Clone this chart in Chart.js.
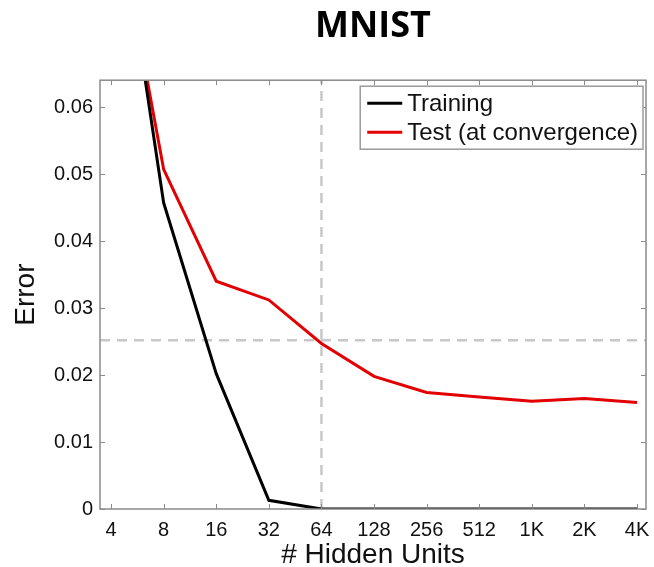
<!DOCTYPE html>
<html><head><meta charset="utf-8">
<script src="https://cdn.jsdelivr.net/npm/chart.js@4/dist/chart.umd.min.js"></script>
<style>html,body{margin:0;padding:0;background:#fff;} #wrap{width:654px;height:567px;}</style>
</head><body><div id="wrap"><canvas id="c" width="654" height="567"></canvas></div>
<script>
const unitLabels = ['4','8','16','32','64','128','256','512','1K','2K','4K'];
const log2Units = [2,3,4,5,6,7,8,9,10,11,12];
const trainingError = [0.098,0.0457,0.0202,0.0013,0,0,0,0,0,0,0];
const testError = [0.0933,0.0507,0.034,0.0312,0.0247,0.0198,0.0174,0.0167,0.0161,0.0165,0.0159];
const yTicks = [0,0.01,0.02,0.03,0.04,0.05,0.06];
const seriesNames = ['Training','Test (at convergence)'];
const refUnitsLog2 = 6;   // 64 hidden units
const refError = 0.0252;
const xMin = 1.79, xMax = 12.17, yMin = 0, yMax = 0.064;

const AXIS_GRAY = '#8a8a8a';
const TXT = '#111111';

const framePlugin = {
  id: 'frame',
  afterDatasetsDraw(chart) {
    const {ctx, chartArea: a, scales: {x, y}} = chart;
    ctx.save();
    ctx.strokeStyle = AXIS_GRAY;
    ctx.lineWidth = 1.5;
    ctx.strokeRect(a.left, a.top, a.right - a.left, a.bottom - a.top);
    ctx.lineWidth = 1;
    ctx.beginPath();
    x.ticks.forEach(t => {
      const px = Math.round(x.getPixelForValue(t.value)) + 0.5;
      ctx.moveTo(px, a.bottom); ctx.lineTo(px, a.bottom - 5);
      ctx.moveTo(px, a.top); ctx.lineTo(px, a.top + 5);
    });
    y.ticks.forEach(t => {
      const py = Math.round(y.getPixelForValue(t.value)) + 0.5;
      ctx.moveTo(a.left, py); ctx.lineTo(a.left + 5, py);
      ctx.moveTo(a.right, py); ctx.lineTo(a.right - 5, py);
    });
    ctx.stroke();

    // legend box
    ctx.font = '24px "Liberation Sans", Arial, sans-serif';
    const tw = Math.max(...seriesNames.map(s => ctx.measureText(s).width));
    const bw = 47 + tw + 5, bh = 63;
    const bx = a.right - 3 - bw, by = a.top + 6;
    ctx.fillStyle = '#fff';
    ctx.fillRect(bx, by, bw, bh);
    ctx.strokeStyle = '#9a9a9a';
    ctx.lineWidth = 1.5;
    ctx.strokeRect(bx, by, bw, bh);
    const rows = [by + 17, by + 46];
    chart.data.datasets.slice(0, 2).forEach((ds, i) => {
      ctx.strokeStyle = ds.borderColor;
      ctx.lineWidth = 3;
      ctx.beginPath();
      ctx.moveTo(bx + 7, rows[i]); ctx.lineTo(bx + 42, rows[i]);
      ctx.stroke();
      ctx.fillStyle = TXT;
      ctx.textBaseline = 'middle';
      ctx.textAlign = 'left';
      ctx.fillText(ds.label, bx + 47, rows[i] + 1);
    });
    ctx.restore();
  }
};

new Chart(document.getElementById('c'), {
  type: 'line',
  data: {
    datasets: [
      { label: seriesNames[0], data: log2Units.map((v, i) => ({x: v, y: trainingError[i]})),
        borderColor: '#000000', borderWidth: 3, pointRadius: 0, tension: 0, fill: false },
      { label: seriesNames[1], data: log2Units.map((v, i) => ({x: v, y: testError[i]})),
        borderColor: '#e30000', borderWidth: 3, pointRadius: 0, tension: 0, fill: false },
      { label: 'ref-h', data: [{x: xMin, y: refError}, {x: xMax, y: refError}],
        borderColor: '#c8c8c8', borderWidth: 2.5, borderDash: [10, 7], pointRadius: 0 },
      { label: 'ref-v', data: [{x: refUnitsLog2, y: yMin}, {x: refUnitsLog2, y: yMax}],
        borderColor: '#c8c8c8', borderWidth: 2.5, borderDash: [10, 7], pointRadius: 0 }
    ]
  },
  options: {
    responsive: false, animation: false, devicePixelRatio: 1,
    layout: { padding: { left: 0, right: 8, top: 0, bottom: 0 } },
    plugins: {
      legend: { display: false },
      tooltip: { enabled: false },
      title: { display: true, text: 'MNIST', fullSize: false, color: '#000',
        font: { family: '"Open Sans", sans-serif', weight: 'bold', size: 36, lineHeight: 1.2 },
        padding: { top: 5, bottom: 32 } }
    },
    scales: {
      x: {
        type: 'linear', min: xMin, max: xMax,
        afterBuildTicks: s => { s.ticks = log2Units.map(v => ({value: v})); },
        afterFit: s => { s.height = 58; s.paddingLeft = 0; s.paddingRight = 0; },
        grid: { display: false, drawTicks: false },
        border: { display: false },
        ticks: { callback: (v, i) => unitLabels[i], color: TXT, padding: 9, maxRotation: 0, autoSkip: false,
          font: { family: '"Liberation Sans", Arial, sans-serif', size: 20 } },
        title: { display: true, text: '# Hidden Units', color: TXT,
          font: { family: '"Liberation Sans", Arial, sans-serif', size: 28, lineHeight: 0.85 },
          padding: { top: 0, bottom: 0 } }
      },
      y: {
        type: 'linear', min: yMin, max: yMax,
        afterBuildTicks: s => { s.ticks = yTicks.map(v => ({value: v})); },
        afterFit: s => { s.width = 100; s.paddingTop = 0; s.paddingBottom = 0; },
        grid: { display: false, drawTicks: false },
        border: { display: false },
        ticks: { callback: v => v === 0 ? '0' : v.toFixed(2), color: TXT, padding: 7,
          font: { family: '"Liberation Sans", Arial, sans-serif', size: 20 } },
        title: { display: true, text: 'Error', color: TXT,
          font: { family: '"Liberation Sans", Arial, sans-serif', size: 28, lineHeight: 1.2 },
          padding: { top: 9, bottom: 0 } }
      }
    }
  },
  plugins: [framePlugin]
});
</script></body></html>
